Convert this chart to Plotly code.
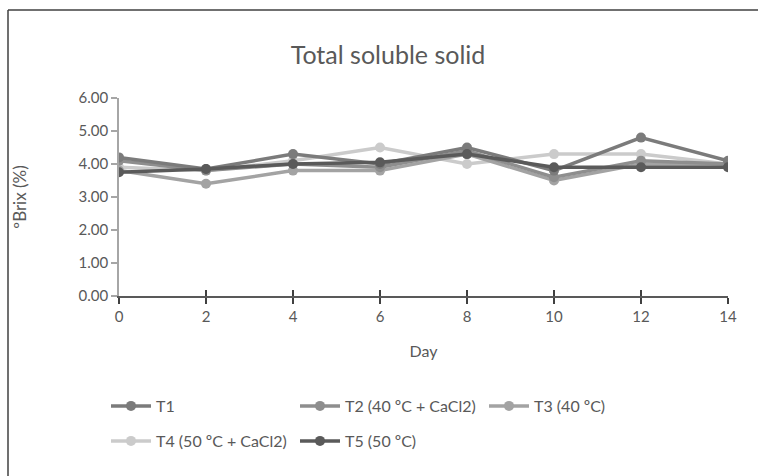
import plotly.graph_objects as go

days = [0, 2, 4, 6, 8, 10, 12, 14]
t1 = [4.20, 3.85, 4.30, 4.00, 4.50, 3.80, 4.80, 4.10]
t2 = [4.10, 3.80, 4.00, 3.90, 4.40, 3.60, 4.10, 4.00]
t3 = [3.80, 3.40, 3.80, 3.80, 4.30, 3.50, 4.00, 4.00]
t4 = [3.90, 3.80, 4.10, 4.50, 4.00, 4.30, 4.30, 4.00]
t5 = [3.75, 3.85, 4.00, 4.05, 4.30, 3.90, 3.90, 3.90]

names = ["T1", "T2 (40 ºC + CaCl2)", "T3 (40 ºC)", "T4 (50 ºC + CaCl2)", "T5 (50 ºC)"]
series = [t1, t2, t3, t4, t5]
colors = ["#7b7b7b", "#8e8e8e", "#a3a3a3", "#cbcbcb", "#5a5a5a"]
legends = ["legend", "legend", "legend", "legend2", "legend2"]

W, H = 758, 476
L, R, T, B = 119, 30, 98, 180
pw, ph = W - L - R, H - T - B

fig = go.Figure()
order = [3, 2, 1, 0, 4]
for i in order:
    fig.add_trace(go.Scatter(
        x=days, y=series[i], name=names[i], mode="lines+markers",
        line=dict(color=colors[i], width=3.5),
        marker=dict(color=colors[i], size=10, symbol="circle"),
        legend=legends[i], legendrank=i + 1,
    ))

font = "Lato, 'Open Sans', sans-serif"
fig.update_layout(
    width=W, height=H,
    margin=dict(l=L, r=R, t=T, b=B),
    paper_bgcolor="white", plot_bgcolor="white",
    font=dict(family=font, color="#595959", size=15),
    title=dict(text="Total soluble solid", font=dict(size=25, color="#595959"),
               x=388 / W, xref="container", xanchor="center",
               y=1 - 55 / H, yref="container", yanchor="middle"),
    xaxis=dict(range=[0, 14], tickvals=days, ticktext=[str(d) for d in days],
               showgrid=False, zeroline=False, showline=True, linecolor="#595959", linewidth=2,
               ticks="outside", ticklen=6, tickcolor="#404040", tickwidth=1.5,
               title=dict(text="Day", font=dict(size=16, color="#595959"), standoff=22),
               tickfont=dict(size=15, color="#595959")),
    xaxis2=dict(range=[0, 14], tickvals=days, overlaying="x", showticklabels=False,
                showgrid=False, zeroline=False, showline=False, side="bottom",
                ticks="inside", ticklen=6, tickcolor="#404040", tickwidth=1.5),
    yaxis=dict(range=[0, 6], tickvals=[0, 1, 2, 3, 4, 5, 6], tickformat=".2f",
               showgrid=False, zeroline=False, showline=True, linecolor="#a6a6a6", linewidth=1.5,
               ticks="outside", ticklen=6, tickcolor="#a6a6a6", tickwidth=1.5,
               title=dict(text="ºBrix (%)", font=dict(size=17, color="#595959"), standoff=48),
               tickfont=dict(size=15, color="#595959")),
    legend=dict(orientation="h", x=(106 - L) / pw, xanchor="left", y=-(406 - T - ph) / ph,
                yanchor="middle", entrywidth=134, entrywidthmode="pixels",
                font=dict(size=16, color="#595959"), bgcolor="rgba(0,0,0,0)", itemwidth=40),
    legend2=dict(orientation="h", x=(106 - L) / pw, xanchor="left", y=-(441 - T - ph) / ph,
                 yanchor="middle", entrywidth=134, entrywidthmode="pixels",
                 font=dict(size=16, color="#595959"), bgcolor="rgba(0,0,0,0)", itemwidth=40),
    showlegend=True,
)
fig.add_trace(go.Scatter(x=[0], y=[None], xaxis="x2", showlegend=False, hoverinfo="skip"))

# chart-area border (only top and left edges fall inside the picture)
fig.add_shape(type="line", xref="paper", yref="paper",
              x0=(8 - L) / pw, x1=(900 - L) / pw,
              y0=(T + ph - 10) / ph, y1=(T + ph - 10) / ph,
              line=dict(color="#404040", width=1.5), layer="below")
fig.add_shape(type="line", xref="paper", yref="paper",
              x0=(8 - L) / pw, x1=(8 - L) / pw,
              y0=(T + ph - 600) / ph, y1=(T + ph - 10) / ph,
              line=dict(color="#404040", width=1.5), layer="below")

fig.write_html("out.html")
